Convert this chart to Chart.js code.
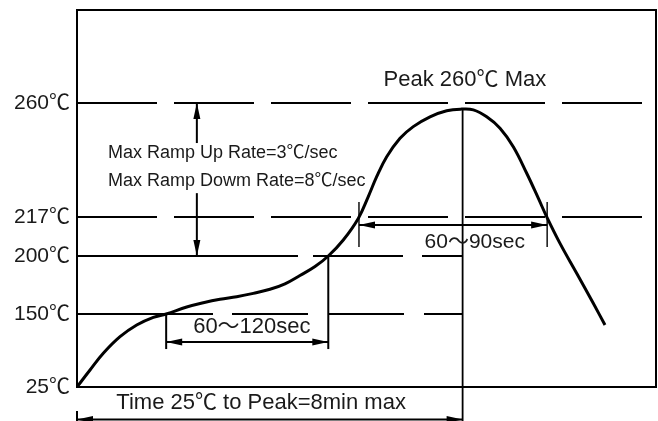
<!DOCTYPE html>
<html>
<head>
<meta charset="utf-8">
<script src="https://cdn.jsdelivr.net/npm/chart.js@4.4.1/dist/chart.umd.min.js"></script>
<style>
  html, body { margin: 0; padding: 0; background: #fff; }
  canvas { display: block; }
</style>
</head>
<body>
<canvas id="chart" width="658" height="421"></canvas>
<script>
// reflow profile, time axis is schematic (0..100), temperatures in ℃
var tempTicks = [25, 150, 200, 217, 260];
var profileTime = [0, 2.25, 4.54, 7.43, 10.31, 13.18, 15.4, 18.95, 21.81, 24.7, 27.58, 30.45, 33.33, 35.92, 38.51, 41.11, 43.4,
    45.99, 48.58, 50.31, 51.76, 53.49, 55.79, 58.08, 60.97, 63.85, 66.44, 68.45, 70.76, 73.06, 75.35, 77.67, 79.67, 81.12,
    83.42, 86.3, 89.17, 91.19];
var profileTemp = [25, 54.1, 82.7, 111.1, 131.2, 144.3, 150, 156.0, 159.7, 162.7, 164.9, 167.8, 171.3, 176.0, 183.2, 190.9, 200,
    207.0, 216.4, 224.7, 232.2, 239.7, 246.7, 251.1, 254.8, 257.1, 257.7, 257.4, 254.8, 250.5, 243.5, 233.5, 224.1, 217.1,
    205.5, 185.1, 159.2, 131.2];

// key times on the profile
var soakStart = 15.4, soakEnd = 43.4;
var liqStart = 48.7, liqEnd = 81.2;
var peakTime = 66.6, peakTemp = 257.7;

// the temperature axis is drawn out of scale, like the original sketch
var axisTemps = [25, 150, 200, 217, 260, 300];
var axisFrac = [0, 0.1936, 0.3475, 0.4509, 0.7533, 1];

var FONT = '"Liberation Sans", "Noto Sans CJK SC", Arial, sans-serif';

function tempToFrac(t) {
    var i = 1;
    while (i < axisTemps.length - 1 && t > axisTemps[i]) i++;
    var t0 = axisTemps[i - 1], t1 = axisTemps[i];
    return axisFrac[i - 1] + (t - t0) / (t1 - t0) * (axisFrac[i] - axisFrac[i - 1]);
}
function fracToTemp(f) {
    var i = 1;
    while (i < axisFrac.length - 1 && f > axisFrac[i]) i++;
    var f0 = axisFrac[i - 1], f1 = axisFrac[i];
    return axisTemps[i - 1] + (f - f0) / (f1 - f0) * (axisTemps[i] - axisTemps[i - 1]);
}

class SchematicScale extends Chart.LinearScale {
    getPixelForValue(value) { return this.getPixelForDecimal(tempToFrac(value)); }
    getValueForPixel(pixel) { return fracToTemp(this.getDecimalForPixel(pixel)); }
}
SchematicScale.id = 'schematic';
SchematicScale.defaults = Chart.LinearScale.defaults;
Chart.register(SchematicScale);

function line(ctx, x1, y1, x2, y2) {
    ctx.beginPath();
    ctx.moveTo(x1, y1);
    ctx.lineTo(x2, y2);
    ctx.stroke();
}
function head(ctx, x, y, dx, dy) {
    // filled arrow head, tip at (x,y) pointing along (dx,dy)
    var len = 16, w = 3.5;
    ctx.beginPath();
    ctx.moveTo(x, y);
    ctx.lineTo(x - dx * len - dy * w, y - dy * len + dx * w);
    ctx.lineTo(x - dx * len + dy * w, y - dy * len - dx * w);
    ctx.closePath();
    ctx.fill();
}
function text(ctx, s, x, y, size, align) {
    ctx.font = size + 'px ' + FONT;
    ctx.textAlign = align || 'center';
    ctx.textBaseline = 'middle';
    ctx.fillText(s, x, y);
}

var sketch = {
    id: 'sketch',
    beforeDatasetsDraw: function (chart) {
        var ctx = chart.ctx, a = chart.chartArea;
        var X = function (v) { return chart.scales.x.getPixelForValue(v); };
        var Y = function (v) { return chart.scales.y.getPixelForValue(v); };
        ctx.save();
        ctx.strokeStyle = '#000';
        ctx.lineWidth = 2;
        ctx.strokeRect(a.left, a.top, a.right - a.left, a.bottom - a.top);

        ctx.setLineDash([80, 17]);
        line(ctx, X(0), Y(260), X(97.9), Y(260));
        line(ctx, X(0), Y(217), X(97.9), Y(217));
        ctx.setLineDash([221, 15, 90, 19, 60]);
        line(ctx, X(0), Y(200), X(peakTime), Y(200));
        ctx.setLineDash([136, 19, 76, 20, 76, 20, 76]);
        line(ctx, X(0), Y(150), X(peakTime), Y(150));
        ctx.setLineDash([]);

        ctx.lineWidth = 1.8;
        line(ctx, X(peakTime), Y(peakTemp), X(peakTime), chart.height);
        ctx.restore();
    },
    afterDatasetsDraw: function (chart) {
        var ctx = chart.ctx, a = chart.chartArea;
        var X = function (v) { return chart.scales.x.getPixelForValue(v); };
        var Y = function (v) { return chart.scales.y.getPixelForValue(v); };
        ctx.save();
        ctx.strokeStyle = '#000';
        ctx.fillStyle = '#000';

        // soak window
        ctx.lineWidth = 2;
        line(ctx, X(soakStart), Y(150), X(soakStart), Y(90));
        line(ctx, X(soakEnd), Y(200), X(soakEnd), Y(90));
        line(ctx, X(soakStart), Y(102), X(soakEnd), Y(102));
        head(ctx, X(soakStart), Y(102), -1, 0);
        head(ctx, X(soakEnd), Y(102), 1, 0);

        // time above liquidus
        ctx.lineWidth = 1.4;
        line(ctx, X(liqStart), Y(222.7), X(liqStart), Y(203.9));
        line(ctx, X(liqEnd), Y(222.7), X(liqEnd), Y(203.9));
        ctx.lineWidth = 2;
        line(ctx, X(liqStart), Y(213.5), X(liqEnd), Y(213.5));
        head(ctx, X(liqStart), Y(213.5), -1, 0);
        head(ctx, X(liqEnd), Y(213.5), 1, 0);

        // ramp rate arrow
        line(ctx, X(20.7), Y(260), X(20.7), Y(244.9));
        line(ctx, X(20.7), Y(226), X(20.7), Y(200));
        head(ctx, X(20.7), Y(260), 0, -1);
        head(ctx, X(20.7), Y(200), 0, 1);

        // time to peak
        var yb = a.bottom + 32.5;
        line(ctx, X(0), a.bottom + 24, X(0), chart.height);
        line(ctx, X(0), yb, X(peakTime), yb);
        head(ctx, X(0), yb, -1, 0);
        head(ctx, X(peakTime), yb, 1, 0);

        ctx.fillStyle = '#1a1a1a';
        text(ctx, '60～120sec', X(30.2), Y(128), 22);
        text(ctx, '60～90sec', X(68.7), Y(206), 21);
        text(ctx, 'Peak 260℃ Max', X(67), Y(269.9), 22);
        text(ctx, 'Max Ramp Up Rate=3℃/sec', X(5.35), Y(241.1), 18, 'left');
        text(ctx, 'Max Ramp Dowm Rate=8℃/sec', X(5.35), Y(230.6), 18, 'left');
        text(ctx, 'Time 25℃ to Peak=8min max', X(31.8), a.bottom + 16, 22);
        ctx.restore();
    }
};

var points = profileTime.map(function (t, i) { return { x: t, y: profileTemp[i] }; });

new Chart(document.getElementById('chart'), {
    type: 'line',
    data: {
        datasets: [{
            data: points,
            borderColor: '#000',
            borderWidth: 3,
            pointRadius: 0,
            fill: false,
            tension: 0.4
        }]
    },
    options: {
        responsive: false,
        animation: false,
        layout: { padding: { top: 10, right: 2, bottom: 34, left: 0 } },
        plugins: { legend: { display: false }, tooltip: { enabled: false } },
        scales: {
            x: { type: 'linear', min: 0, max: 100, display: false },
            y: {
                type: 'schematic',
                min: 25,
                max: 300,
                grid: { display: false, drawTicks: false },
                border: { display: false },
                ticks: {
                    autoSkip: false,
                    padding: 7,
                    color: '#1a1a1a',
                    font: { size: 21, family: FONT },
                    callback: function (v) { return v + '℃'; }
                },
                afterBuildTicks: function (s) {
                    s.ticks = tempTicks.map(function (v) { return { value: v }; });
                },
                afterFit: function (s) {
                    s.width = 77;
                    s.paddingTop = 0;
                    s.paddingBottom = 0;
                }
            }
        }
    },
    plugins: [sketch]
});
</script>
</body>
</html>
